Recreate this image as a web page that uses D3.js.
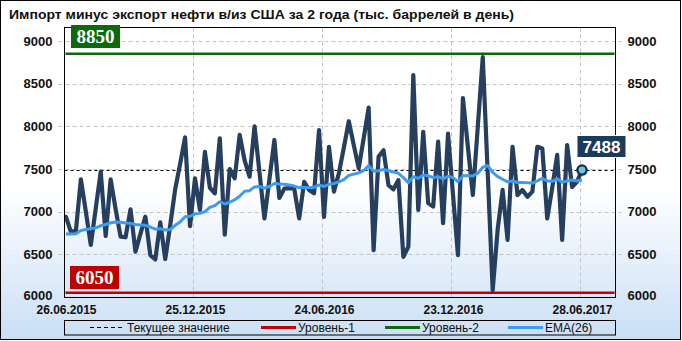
<!DOCTYPE html>
<html>
<head>
<meta charset="utf-8">
<script src="https://cdn.jsdelivr.net/npm/d3@7"></script>
<style>
  html, body { margin: 0; padding: 0; background: #ffffff; }
  svg { display: block; }
</style>
</head>
<body>
<svg id="chart" width="682" height="341"></svg>
<script>
// ---------------- DATA ----------------
const title = "Импорт  минус экспорт нефти  в/из США за 2 года (тыс. баррелей в день)";
const tickIndex = [0, 26, 52, 78, 104];
const tickDates = ["26.06.2015", "25.12.2015", "24.06.2016", "23.12.2016", "28.06.2017"];
const yTicks = [6000, 6500, 7000, 7500, 8000, 8500, 9000];
const level1 = 6050;
const level2 = 8850;
const currentValue = 7488;
const legendLabels = ["Текущее значение", "Уровень-1", "Уровень-2", "EMA(26)"];

const values = [
  6940, 6760, 6780, 7380, 7000, 6610, 7040, 7470, 6715, 7380,
  7030, 6707, 6700, 7027, 6531, 6740, 6941, 6490, 6440, 6875,
  6445, 6840, 7260, 7560, 7870, 6830, 7391, 7020, 7700, 7280,
  7215, 7860, 6730, 7500, 7390, 7900, 7600, 7410, 8000, 7460,
  6920, 7380, 7840, 7160, 7270, 7275, 7270, 6920, 7350, 7255,
  7215, 7955, 6940, 7760, 7235, 7450, 7750, 8060, 7780, 7510,
  7860, 8220, 6550, 7645, 7720, 7310, 7262, 7370, 6470, 6590,
  8600, 7020, 7935, 7100, 7060, 7820, 6865, 7915, 7200, 6490,
  8330, 7760, 7195, 8000, 8810, 7450, 6080, 6790, 7255, 6670,
  7760, 7195, 7255, 7175, 7235, 7760, 7740, 6920, 7280, 7665,
  6670, 7780, 7290, 7350, 7488
];

const ema = [
  6738, 6738, 6740, 6780, 6790, 6800, 6810, 6835, 6850, 6870,
  6880, 6875, 6868, 6863, 6850, 6845, 6840, 6820, 6795, 6800,
  6785, 6790, 6840, 6880, 6940, 6945, 6975, 6980, 7000, 7050,
  7070, 7117, 7090, 7110, 7140, 7180, 7240, 7246, 7290, 7295,
  7275, 7295, 7330, 7325, 7320, 7312, 7300, 7282, 7282, 7282,
  7285, 7313, 7295, 7320, 7330, 7350, 7375, 7425, 7440, 7455,
  7480, 7540, 7475, 7480, 7495, 7480, 7465, 7450, 7400, 7340,
  7410, 7390, 7430, 7420, 7400, 7410, 7385, 7415, 7400, 7352,
  7420, 7420, 7418, 7450, 7520, 7540, 7460, 7410, 7380, 7350,
  7360, 7342, 7342, 7338, 7335, 7360, 7390, 7360, 7355, 7385,
  7345, 7360, 7370, 7360, 7371
];

// ---------------- LAYOUT ----------------
const W = 682, H = 341;
const plot = { left: 64.5, right: 615.5, top: 27.5, bottom: 297.5 };
const colors = {
  main: "#263f5e",
  ema: "#3d9cf2",
  level1: "#c00000",
  level2: "#0b6b0b",
  grid: "#c4c4c4",
  label: "#1c3a5c"
};

const svg = d3.select("#chart");

const defs = svg.append("defs");
const grad = defs.append("linearGradient").attr("id", "bg").attr("x1", 0).attr("y1", 0).attr("x2", 0).attr("y2", 1);
grad.append("stop").attr("offset", "0").attr("stop-color", "#ffffff");
grad.append("stop").attr("offset", "0.55").attr("stop-color", "#ffffff");
grad.append("stop").attr("offset", "1").attr("stop-color", "#cadff5");

svg.append("rect").attr("x", 0.5).attr("y", 0.5).attr("width", W - 2).attr("height", H - 2)
  .attr("fill", "url(#bg)").attr("stroke", "#000").attr("stroke-width", 1);

// title
svg.append("text").attr("x", 9).attr("y", 18.5)
  .attr("font-family", "'Liberation Sans', Arial, sans-serif")
  .attr("font-weight", "bold").attr("font-size", 13).attr("fill", "#111")
  .attr("textLength", 505).attr("lengthAdjust", "spacingAndGlyphs")
  .text(title);

const x = d3.scaleLinear().domain([0, 104]).range([66, 582]);
const y = d3.scaleLinear().domain([6000, 9000]).range([297, 41]);

// grid
const grid = svg.append("g");
grid.selectAll(".hg").data(yTicks.filter(v => v > 6000)).join("line")
  .attr("x1", plot.left - 6).attr("x2", plot.right + 6)
  .attr("y1", d => Math.round(y(d)) + 0.5).attr("y2", d => Math.round(y(d)) + 0.5)
  .attr("stroke", colors.grid).attr("stroke-dasharray", "4,3");
grid.selectAll(".vg").data(tickIndex.slice(1)).join("line")
  .attr("x1", d => Math.round(x(d)) - 1.5).attr("x2", d => Math.round(x(d)) - 1.5)
  .attr("y1", plot.top).attr("y2", plot.bottom)
  .attr("stroke", colors.grid).attr("stroke-dasharray", "4,3");

// axes
const fontAxis = "'Liberation Sans', Arial, sans-serif";
const yl = svg.append("g").attr("transform", `translate(${plot.left},0)`)
  .call(d3.axisLeft(y).tickValues(yTicks).tickSize(0).tickPadding(12).tickFormat(d3.format("d")));
const yr = svg.append("g").attr("transform", `translate(${plot.right},0)`)
  .call(d3.axisRight(y).tickValues(yTicks).tickSize(0).tickPadding(12).tickFormat(d3.format("d")));
const xb = svg.append("g").attr("transform", `translate(0,${plot.bottom})`)
  .call(d3.axisBottom(x).tickValues(tickIndex).tickSize(0).tickPadding(8)
    .tickFormat((d, i) => tickDates[i]));
[yl, yr].forEach(g => {
  g.select(".domain").remove();
  g.selectAll("text").attr("font-family", fontAxis).attr("font-weight", "bold")
    .attr("font-size", 13).attr("fill", "#111");
});
// lift the lowest left/right label slightly so it clears the date labels
yl.selectAll(".tick").filter(d => d === 6000).select("text").attr("dy", "0.2em");
yr.selectAll(".tick").filter(d => d === 6000).select("text").attr("dy", "0.2em");
xb.select(".domain").remove();
xb.selectAll("text").attr("font-family", fontAxis).attr("font-weight", "bold")
  .attr("font-size", 12).attr("fill", "#111");

// level lines
svg.append("line").attr("x1", plot.left + 1).attr("x2", plot.right - 1)
  .attr("y1", y(level1)).attr("y2", y(level1))
  .attr("stroke", colors.level1).attr("stroke-width", 2.5);
svg.append("line").attr("x1", plot.left + 1).attr("x2", plot.right - 1)
  .attr("y1", y(level2)).attr("y2", y(level2))
  .attr("stroke", colors.level2).attr("stroke-width", 2.5);

// current value dashed line
svg.append("line").attr("x1", plot.left).attr("x2", plot.right)
  .attr("y1", Math.round(y(currentValue)) + 0.5).attr("y2", Math.round(y(currentValue)) + 0.5)
  .attr("stroke", "#000").attr("stroke-dasharray", "3,3");

// main line
const line = d3.line().x((d, i) => x(i)).y(d => y(d));
svg.append("path").datum(values).attr("d", line)
  .attr("fill", "none").attr("stroke", colors.main).attr("stroke-width", 4.2)
  .attr("stroke-linejoin", "round").attr("stroke-linecap", "round");

// EMA
svg.append("path").datum(ema).attr("d", line)
  .attr("fill", "none").attr("stroke", colors.ema).attr("stroke-width", 3)
  .attr("stroke-linejoin", "round");

// plot border
svg.append("rect").attr("x", plot.left).attr("y", plot.top)
  .attr("width", plot.right - plot.left).attr("height", plot.bottom - plot.top)
  .attr("fill", "none").attr("stroke", "#000").attr("stroke-width", 1);

// end marker
const lastI = values.length - 1;
svg.append("circle").attr("cx", x(lastI)).attr("cy", y(values[lastI])).attr("r", 4.6)
  .attr("fill", "#74c2d6").attr("stroke", "#10305a").attr("stroke-width", 2.4);

// level boxes
function levelBox(val, bx, by, fill) {
  const g = svg.append("g");
  g.append("rect").attr("x", bx).attr("y", by).attr("width", 49).attr("height", 23).attr("fill", fill);
  g.append("text").attr("x", bx + 24.5).attr("y", by + 18)
    .attr("text-anchor", "middle")
    .attr("font-family", "'Liberation Serif', 'Times New Roman', serif")
    .attr("font-weight", "bold").attr("font-size", 19).attr("fill", "#fff")
    .text(val);
}
levelBox(level2, 71, 25, colors.level2);
levelBox(level1, 70, 266, colors.level1);

// current value label
const cl = svg.append("g");
cl.append("rect").attr("x", 577).attr("y", 135.5).attr("width", 49).attr("height", 22)
  .attr("fill", colors.label).attr("stroke", "#ffffff").attr("stroke-width", 1);
cl.append("text").attr("x", 601.5).attr("y", 153)
  .attr("text-anchor", "middle")
  .attr("font-family", fontAxis).attr("font-weight", "bold").attr("font-size", 17)
  .attr("fill", "#fff").text(currentValue);

// legend
const lg = svg.append("g");
lg.append("rect").attr("x", 64.5).attr("y", 320.5).attr("width", 551).attr("height", 14.5)
  .attr("fill", "none").attr("stroke", "#000").attr("stroke-width", 1);
const legendItems = [
  { x1: 90, x2: 122, tx: 127, color: "#000", dash: "4,3", w: 1 },
  { x1: 261, x2: 296, tx: 298, color: colors.level1, dash: null, w: 3 },
  { x1: 385, x2: 420, tx: 422, color: colors.level2, dash: null, w: 3 },
  { x1: 508, x2: 543, tx: 545, color: colors.ema, dash: null, w: 3 }
];
legendItems.forEach((it, i) => {
  lg.append("line").attr("x1", it.x1).attr("x2", it.x2).attr("y1", 327.5).attr("y2", 327.5)
    .attr("stroke", it.color).attr("stroke-width", it.w)
    .attr("stroke-dasharray", it.dash);
  lg.append("text").attr("x", it.tx).attr("y", 332)
    .attr("font-family", fontAxis).attr("font-size", 12).attr("fill", "#111")
    .text(legendLabels[i]);
});
</script>
</body>
</html>
